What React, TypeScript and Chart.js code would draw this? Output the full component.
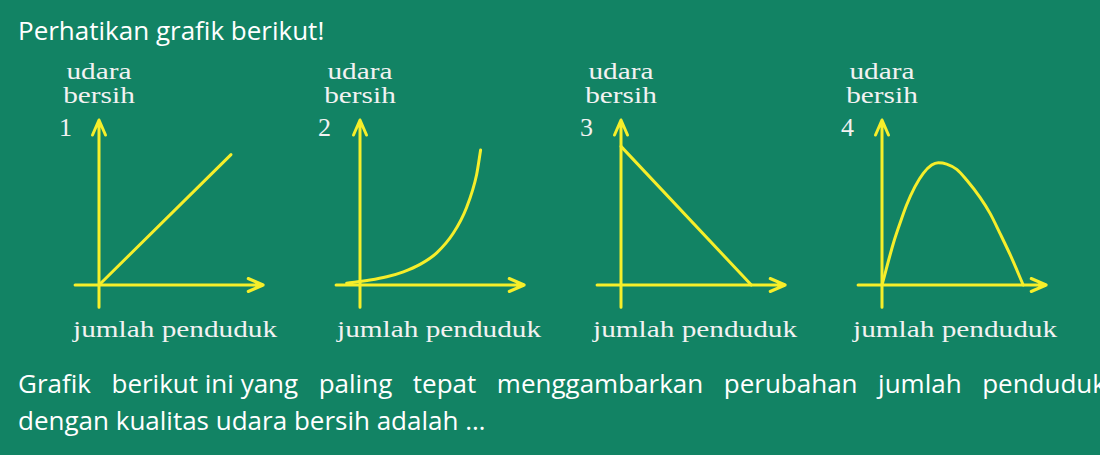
import React, { useEffect, useRef } from "react";
import { Chart, registerables } from "chart.js";

Chart.register(...registerables);

// ---- data (abstract units: axis arrow tips at 10) ----
const chartNumbers = ["1", "2", "3", "4"];
const yAxisTitle = ["udara", "bersih"];
const xAxisTitle = "jumlah penduduk";
const titleText = "Perhatikan grafik berikut!";
const questionLine1 = ["Grafik", "berikut", "ini", "yang", "paling", "tepat", "menggambarkan", "perubahan", "jumlah", "penduduk"];
const questionLine2 = "dengan kualitas udara bersih adalah …";

const curve1X = [0, 8.0];
const curve1Y = [0, 7.9];

const curve2X = [-0.81, 0.61, 1.62, 2.63, 3.64, 4.65, 5.66, 6.46, 7.07, 7.31];
const curve2Y = [0.1, 0.3, 0.5, 0.8, 1.25, 1.95, 3.15, 4.7, 6.7, 8.18];

const curve3X = [0, 7.9];
const curve3Y = [8.4, 0];

const curve4X = [0, 0.69, 1.09, 1.49, 2.0, 2.5, 3.01, 3.41, 3.92, 4.53, 5.13, 5.94, 6.55, 7.15, 7.76, 8.56];
const curve4Y = [0, 2.53, 3.74, 4.85, 5.96, 6.77, 7.27, 7.41, 7.33, 7.01, 6.36, 5.31, 4.34, 3.13, 1.85, 0];

const xAxisRange = [-1.45, 9.95];
const yAxisRange = [-1.35, 10];

const curvesX = [curve1X, curve2X, curve3X, curve4X];
const curvesY = [curve1Y, curve2Y, curve3Y, curve4Y];
const smooth = [false, true, false, true];

// ---- style ----
const BG = "#128364";
const YELLOW = "#f6ee2a";
const UNIT = 16.5; // px per unit
const ORIGIN_X = [99, 360, 621, 882];
const ORIGIN_Y = 285;
const CAN_LEFT = 40;
const CAN_W = 220;
const CAN_TOP = 175;
const CAN_H = 205;

const arrowAxes = {
  id: "arrowAxes",
  beforeDatasetsDraw(chart: any) {
    const { ctx, scales } = chart;
    const x = scales.x;
    const y = scales.y;
    const x0 = x.getPixelForValue(0);
    const y0 = y.getPixelForValue(0);
    const xs = x.getPixelForValue(xAxisRange[0]);
    const xe = x.getPixelForValue(xAxisRange[1]);
    const ys = y.getPixelForValue(yAxisRange[0]);
    const ye = y.getPixelForValue(yAxisRange[1]);
    ctx.save();
    ctx.strokeStyle = YELLOW;
    ctx.lineWidth = 3;
    ctx.lineCap = "round";
    ctx.lineJoin = "round";
    ctx.beginPath();
    ctx.moveTo(xs, y0);
    ctx.lineTo(xe, y0);
    ctx.moveTo(xe - 15, y0 - 6.5);
    ctx.lineTo(xe, y0);
    ctx.lineTo(xe - 15, y0 + 6.5);
    ctx.moveTo(x0, ys);
    ctx.lineTo(x0, ye);
    ctx.moveTo(x0 - 6.5, ye + 15);
    ctx.lineTo(x0, ye);
    ctx.lineTo(x0 + 6.5, ye + 15);
    ctx.stroke();
    ctx.restore();
  },
};

function MiniChart({ idx }: { idx: number }) {
  const ref = useRef<HTMLCanvasElement>(null);
  useEffect(() => {
    const xs = curvesX[idx];
    const ys = curvesY[idx];
    const data = xs.map((v, i) => ({ x: v, y: ys[i] }));
    const chart = new Chart(ref.current as HTMLCanvasElement, {
      type: "line",
      data: {
        datasets: [
          {
            data,
            borderColor: YELLOW,
            borderWidth: 3,
            pointRadius: 0,
            borderCapStyle: "round",
            borderJoinStyle: "round",
            cubicInterpolationMode: smooth[idx] ? "monotone" : "default",
            tension: 0,
            fill: false,
            clip: false as any,
          },
        ],
      },
      options: {
        responsive: false,
        animation: false,
        devicePixelRatio: 1,
        layout: { padding: 0 },
        plugins: { legend: { display: false }, tooltip: { enabled: false } },
        events: [],
        scales: {
          x: {
            type: "linear",
            display: false,
            min: -CAN_LEFT / UNIT,
            max: (CAN_W - CAN_LEFT) / UNIT,
          },
          y: {
            type: "linear",
            display: false,
            min: -(CAN_H - CAN_TOP) / UNIT,
            max: CAN_TOP / UNIT,
          },
        },
      },
      plugins: [arrowAxes],
    });
    return () => chart.destroy();
  }, [idx]);
  return (
    <canvas
      ref={ref}
      width={CAN_W}
      height={CAN_H}
      style={{
        position: "absolute",
        left: ORIGIN_X[idx] - CAN_LEFT,
        top: ORIGIN_Y - CAN_TOP,
        width: CAN_W,
        height: CAN_H,
      }}
    />
  );
}

const SERIF = "'Liberation Serif', 'Times New Roman', serif";
const SANS = "'Open Sans', 'Noto Sans', sans-serif";
const numLeft = [59, 318, 580, 841];
const jumlahLeft = [73, 337, 593, 853];

// words grouped into justified items: "berikut ini yang" stays tight
const line1Items = [
  questionLine1[0],
  questionLine1.slice(1, 4).join(" "),
  ...questionLine1.slice(4),
];

const sansStyle: React.CSSProperties = {
  position: "absolute",
  fontFamily: SANS,
  fontSize: 26,
  lineHeight: "30px",
  whiteSpace: "nowrap",
};

export default function App() {
  return (
    <div
      style={{
        position: "fixed",
        left: 0,
        top: 0,
        width: 1100,
        height: 455,
        background: BG,
        overflow: "hidden",
        color: "#fff",
      }}
    >
      <div style={{ ...sansStyle, left: 18, top: 15 }}>{titleText}</div>
      {[0, 1, 2, 3].map((i) => (
        <React.Fragment key={i}>
          <div
            style={{
              position: "absolute",
              left: ORIGIN_X[i] - 60,
              width: 120,
              top: 58.9,
              textAlign: "center",
              fontFamily: SERIF,
              fontSize: 24,
              lineHeight: "24px",
              transform: "scaleX(1.22)",
              transformOrigin: "center",
              color: "#f2f2f2",
            }}
          >
            {yAxisTitle[0]}
            <br />
            {yAxisTitle[1]}
          </div>
          <div
            style={{
              position: "absolute",
              left: numLeft[i],
              top: 115,
              fontFamily: SERIF,
              fontSize: 26,
              lineHeight: "26px",
              color: "#f2f2f2",
            }}
          >
            {chartNumbers[i]}
          </div>
          <MiniChart idx={i} />
          <div
            style={{
              position: "absolute",
              left: jumlahLeft[i],
              top: 317,
              fontFamily: SERIF,
              fontSize: 24,
              lineHeight: "24px",
              whiteSpace: "nowrap",
              transform: "scaleX(1.22)",
              transformOrigin: "left",
              color: "#f2f2f2",
            }}
          >
            {xAxisTitle}
          </div>
        </React.Fragment>
      ))}
      <div
        style={{
          ...sansStyle,
          left: 18,
          top: 368,
          width: 1088,
          display: "flex",
          justifyContent: "space-between",
        }}
      >
        {line1Items.map((w, i) => (
          <span key={i}>{w}</span>
        ))}
      </div>
      <div style={{ ...sansStyle, left: 18, top: 405 }}>{questionLine2}</div>
    </div>
  );
}
